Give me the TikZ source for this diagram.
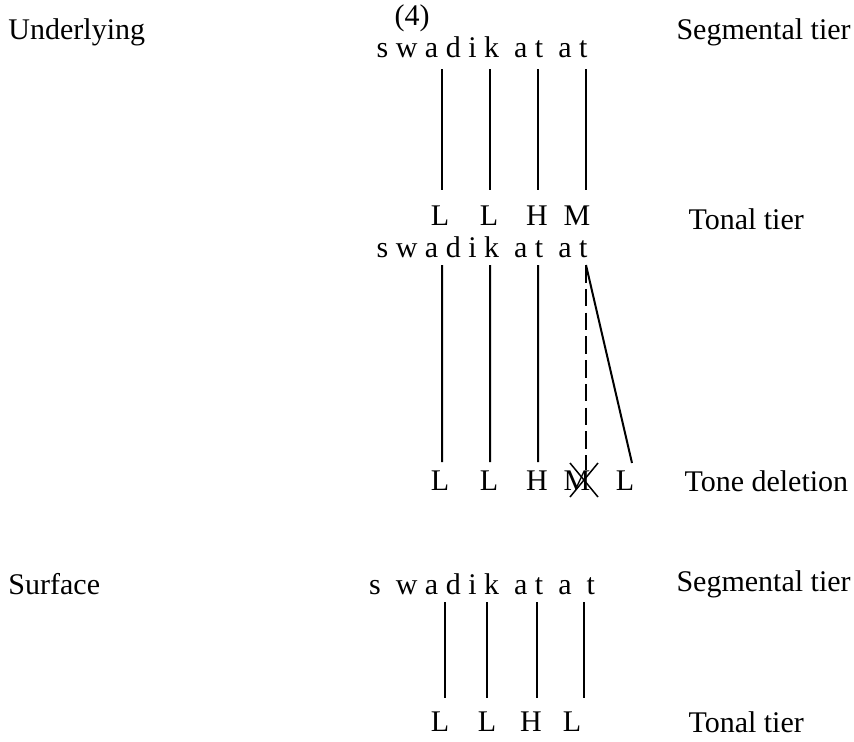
\documentclass[tikz,border=0pt]{standalone}
\usepackage{fontspec}
\setmainfont{Liberation Serif}
\usetikzlibrary{positioning}
\tikzset{
    every node/.style={inner sep=0pt, font=\fontsize{12}{14}\selectfont},
    tier/.style={anchor=west},
    assoc/.style={draw, line width=0.8pt},
    delink/.style={draw, line width=0.8pt, dash pattern=on 7pt off 2.5pt}
}

\begin{document}
\begin{tikzpicture}[x=0.4pt,y=-0.4pt]
	\useasboundingbox (0,0) rectangle (854,741);
	\node at (412,18) (ex) {(4)};
	% underlying form
	\node[tier] at (8,32) (ul) {Underlying};
	\node at (482,47) (s1) {s w a d i k\ \ a t\ \ a t};
	\node[tier] at (676,32) (st1) {Segmental tier};
	\node at (440,216) (t11) {L};
	\node at (489,216) (t12) {L};
	\node at (537,216) (t13) {H};
	\node at (577,216) (t14) {M};
	\node[tier] at (688,219) (tt1) {Tonal tier};
	\coordinate (a11) at (442,69);  \coordinate (b11) at (442,190);
	\coordinate (a12) at (490,69);  \coordinate (b12) at (490,190);
	\coordinate (a13) at (538,69);  \coordinate (b13) at (538,190);
	\coordinate (a14) at (586,69);  \coordinate (b14) at (586,190);
	\draw[assoc] (a11) -- (b11) (a12) -- (b12) (a13) -- (b13) (a14) -- (b14);
	% tone deletion
	\node at (482,247) (s2) {s w a d i k\ \ a t\ \ a t};
	\node at (440,481) (t21) {L};
	\node at (489,481) (t22) {L};
	\node at (537,481) (t23) {H};
	\node at (577,481) (t24) {M};
	\node at (625,481) (t25) {L};
	\node[tier] at (684,481) (td) {Tone deletion};
	\coordinate (a21) at (442,265);  \coordinate (b21) at (442,462);
	\coordinate (a22) at (490,265);  \coordinate (b22) at (490,462);
	\coordinate (a23) at (538,265);  \coordinate (b23) at (538,462);
	\coordinate (a24) at (586,265);  \coordinate (b24) at (586,470);
	\coordinate (b25) at (632,463);
	\draw[assoc] (a21) -- (b21) (a22) -- (b22) (a23) -- (b23) (a24) -- (b25);
	\draw[delink] (a24) -- (b24);
	\coordinate (x1) at (570,463);  \coordinate (x2) at (598,497);
	\coordinate (x3) at (598,463);  \coordinate (x4) at (570,497);
	\draw[assoc, line width=0.6pt] (x1) -- (x2) (x3) -- (x4);
	% surface form
	\node[tier] at (8,584) (sf) {Surface};
	\node at (482,584) (s3) {s\ \ w a d i k\ \ a t\ \ a\ \ t};
	\node[tier] at (676,584) (st3) {Segmental tier};
	\node at (440,722) (t31) {L};
	\node at (487,722) (t32) {L};
	\node at (531,722) (t33) {H};
	\node at (572,722) (t34) {L};
	\node[tier] at (688,722) (tt3) {Tonal tier};
	\coordinate (a31) at (445,602);  \coordinate (b31) at (445,698);
	\coordinate (a32) at (487,602);  \coordinate (b32) at (487,698);
	\coordinate (a33) at (537,602);  \coordinate (b33) at (537,698);
	\coordinate (a34) at (584,602);  \coordinate (b34) at (584,698);
	\draw[assoc] (a31) -- (b31) (a32) -- (b32) (a33) -- (b33) (a34) -- (b34);
\end{tikzpicture}
\end{document}
